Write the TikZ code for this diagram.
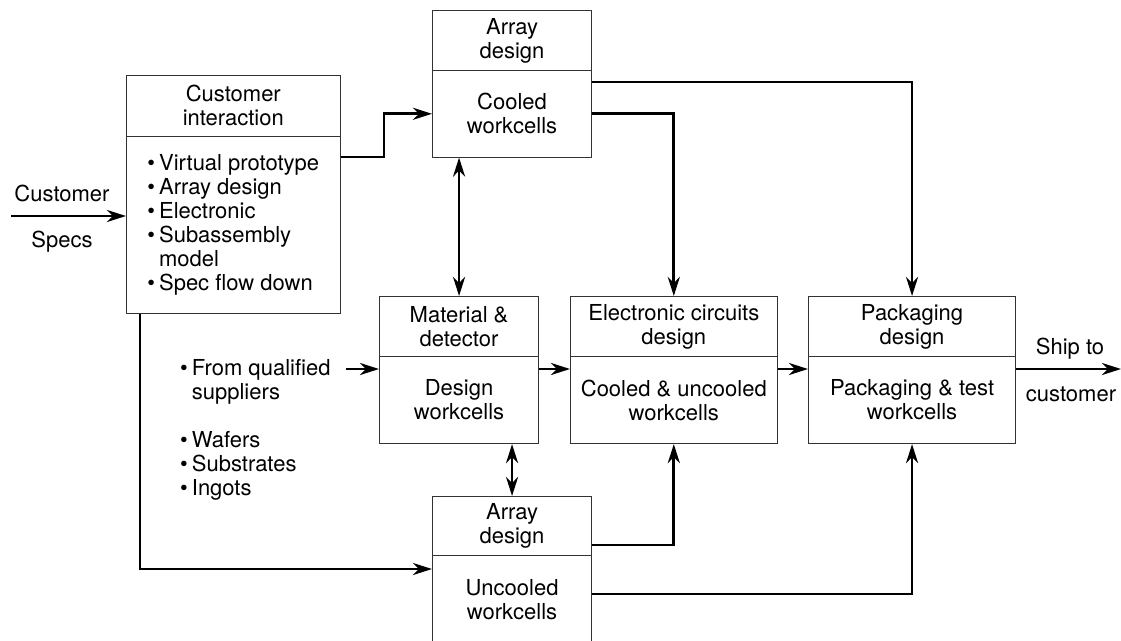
\documentclass[tikz,border=0pt]{standalone}
\usepackage{fontspec}
\setmainfont{TeX Gyre Heros}
\usetikzlibrary{arrows.meta}
\definecolor{rule}{HTML}{333333}
\newcommand\bul{\textbullet\kern4pt}
\begin{document}
\begin{tikzpicture}[x=1pt,y=-1pt,
  font=\fontsize{22}{24}\selectfont,
  part/.style={draw=rule, line width=1.1pt, inner sep=0pt, align=center, anchor=north west},
  conn/.style={line width=2.8pt, -{Stealth[length=19pt,width=12pt,inset=6pt]}},
  both/.style={line width=2.8pt, {Stealth[length=19pt,width=12pt,inset=6pt]}-{Stealth[length=19pt,width=12pt,inset=6pt]}},
  lbl/.style={inner sep=0pt, align=left}]
\useasboundingbox (0,0) rectangle (1121,640);
\clip (0,0) rectangle (1121,640);

% customer interaction
\node[part, minimum width=213.5, minimum height=60.5] (cuh) at (126,75) {Customer\\interaction};
\node[part, align=left, minimum width=213.5, minimum height=177.5] (cub) at (126,135.5)
  {\bul Virtual prototype\\\bul Array design\\\bul Electronic\\\bul Subassembly\\\hphantom{\bul}model\\\bul Spec flow down};

% array design, cooled
\node[part, minimum width=159, minimum height=60] (ath) at (432,10) {Array\\design};
\node[part, minimum width=159, minimum height=86.5] (atb) at (432,70) {Cooled\\workcells};

% material & detector
\node[part, minimum width=159, minimum height=60] (mah) at (379,296) {Material \&\\detector};
\node[part, minimum width=159, minimum height=87] (mab) at (379,356) {Design\\workcells};

% electronic circuits
\node[part, minimum width=206.5, minimum height=60] (elh) at (570,296) {Electronic circuits\\design};
\node[part, minimum width=206.5, minimum height=87] (elb) at (570,356) {Cooled \& uncooled\\workcells};

% packaging
\node[part, minimum width=207, minimum height=60] (pkh) at (808,296) {Packaging\\design};
\node[part, minimum width=207, minimum height=87] (pkb) at (808,356) {Packaging \& test\\workcells};

% array design, uncooled
\node[part, minimum width=159, minimum height=59] (abh) at (432,496) {Array\\design};
\node[part, minimum width=159, minimum height=88] (abb) at (432,555) {Uncooled\\workcells};

% free labels (base of a multi-line label is its last line)
\node[lbl, anchor=base] (lcust) at (62,201) {Customer};
\node[lbl, anchor=base] (lspec) at (62,247) {Specs};
\node[lbl, anchor=base] (lship) at (1070,354) {Ship to};
\node[lbl, anchor=base] (lcus2) at (1071,401) {customer};
\node[lbl, anchor=base west] (supa) at (180,399) {\bul From qualified\\\hphantom{\bul}suppliers};
\node[lbl, anchor=base west] (supb) at (180,495) {\bul Wafers\\\bul Substrates\\\bul Ingots};

% connector end points and bends
\coordinate (in) at (11,216);
\coordinate (k1) at (384,157);
\coordinate (r1) at (0,82);
\coordinate (sup) at (346,369);
\coordinate (out) at (1121,369);
\coordinate (c1) at (140,569);
\coordinate (c2) at (0,545);
\coordinate (c3) at (0,594);

% connectors
\draw[conn] (in) -- (in -| cub.west);
\draw[conn] (cub.east |- k1) -- (k1) |- (atb.west);
\draw[conn] (atb.east |- r1) -| (pkh.north);
\draw[conn] (atb.east) -| (elh.north);
\draw[both] (atb.south -| mah.north) -- (mah.north);
\draw[conn] (sup) -- (sup -| mab.west);
\draw[conn] (mab.east |- sup) -- (elb.west |- sup);
\draw[conn] (elb.east |- sup) -- (pkb.west |- sup);
\draw[conn] (pkb.east |- sup) -- (out);
\draw[both] (mab.south -| abh.north) -- (abh.north);
\draw[conn] (cub.south -| c1) -- (c1) -- (c1 -| abb.west);
\draw[conn] (abh.east |- c2) -| (elb.south);
\draw[conn] (abb.east |- c3) -| (pkb.south);
\end{tikzpicture}
\end{document}
